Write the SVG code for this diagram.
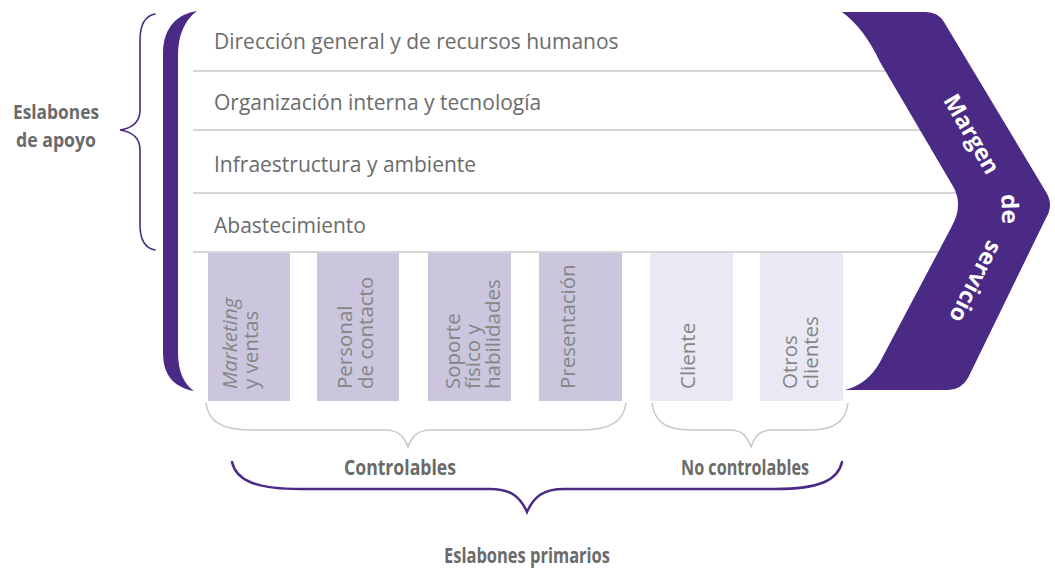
<svg xmlns="http://www.w3.org/2000/svg" width="1055" height="577" viewBox="0 0 1055 577">
  <style>
    .row { font-family: "Open Sans", "Noto Sans", sans-serif; font-size: 21px; fill: #6b6b6b; }
    .col { font-family: "Open Sans", "Noto Sans", sans-serif; font-size: 20.5px; fill: #858585; }
    .lbl { font-family: "Open Sans", "Noto Sans", sans-serif; font-weight: bold; fill: #6a6a6a; text-anchor: middle; }
    .chev { font-family: "Open Sans", "Noto Sans", sans-serif; font-weight: bold; font-size: 23px; fill: #ffffff; text-anchor: middle; }
    .sep { stroke: #d6d6d6; stroke-width: 2; fill: none; }
    .dark { fill: #cbc6de; }
    .light { fill: #eae8f2; }
    .purple { fill: #4b2a85; }
    .brace-light { stroke: #cacaca; stroke-width: 1.6; fill: none; }
    .brace-purple { stroke: #4b2a85; fill: none; stroke-linecap: round; }
  </style>

  <g id="connectors">
    <line class="sep" x1="193" y1="71" x2="900" y2="71"/>
    <line class="sep" x1="193" y1="130" x2="950" y2="130"/>
    <line class="sep" x1="193" y1="193" x2="990" y2="193"/>
    <line class="sep" x1="193" y1="252" x2="980" y2="252"/>
  </g>

  <g id="support-bar">
    <path class="purple" d="M197,11 C178,14 164,26 163,52 L163,352 C163,376 174,387 194,391 C184,384 178,372 178,352 L178,56 C178,34 185,20 197,11 Z"/>
  </g>

  <g id="row-direccion">
    <text class="row" x="214" y="49">Dirección general y de recursos humanos</text>
  </g>
  <g id="row-organizacion">
    <text class="row" x="214" y="110">Organización interna y tecnología</text>
  </g>
  <g id="row-infraestructura">
    <text class="row" x="214" y="172">Infraestructura y ambiente</text>
  </g>
  <g id="row-abastecimiento">
    <text class="row" x="214" y="233">Abastecimiento</text>
  </g>

  <g id="col-marketing">
    <rect class="dark" x="208" y="253" width="82" height="148"/>
    <text class="col" transform="translate(237,389) rotate(-90)" font-style="italic">Marketing</text>
    <text class="col" transform="translate(258,389) rotate(-90)">y ventas</text>
  </g>
  <g id="col-personal">
    <rect class="dark" x="317" y="253" width="82" height="148"/>
    <text class="col" transform="translate(352,389) rotate(-90)">Personal</text>
    <text class="col" transform="translate(373,389) rotate(-90)">de contacto</text>
  </g>
  <g id="col-soporte">
    <rect class="dark" x="428" y="253" width="83" height="148"/>
    <text class="col" transform="translate(460,389) rotate(-90)">Soporte</text>
    <text class="col" transform="translate(480,389) rotate(-90)">físico y</text>
    <text class="col" transform="translate(500,389) rotate(-90)">habilidades</text>
  </g>
  <g id="col-presentacion">
    <rect class="dark" x="539" y="253" width="83" height="148"/>
    <text class="col" transform="translate(575,389) rotate(-90)">Presentación</text>
  </g>
  <g id="col-cliente">
    <rect class="light" x="650" y="253" width="83" height="148"/>
    <text class="col" transform="translate(695,389) rotate(-90)">Cliente</text>
  </g>
  <g id="col-otros">
    <rect class="light" x="760" y="253" width="83" height="148"/>
    <text class="col" transform="translate(797,389) rotate(-90)">Otros</text>
    <text class="col" transform="translate(818,389) rotate(-90)">clientes</text>
  </g>

  <g id="margen-servicio">
    <path class="purple" d="M842,12 L926,12 Q938,12 944,22 L1046,192 Q1054,205 1046,218 L968,378 Q961,390 948,390 L845,390 Q868,384 880,362 L952,226 Q963,206 954,188 L880,62 Q864,28 842,12 Z"/>
    <text class="chev" transform="translate(972,134) rotate(60)" dy="0.36em" textLength="88" lengthAdjust="spacingAndGlyphs">Margen</text>
    <text class="chev" transform="translate(1010,209) rotate(88)" dy="0.36em" textLength="30" lengthAdjust="spacingAndGlyphs">de</text>
    <text class="chev" transform="translate(976,282) rotate(117)" dy="0.36em" textLength="88" lengthAdjust="spacingAndGlyphs">servicio</text>
  </g>

  <g id="eslabones-apoyo">
    <path class="brace-purple" stroke-width="1.6" d="M155,14 C145,16 140,24 140,40 L140,110 C140,122 133,128 120,130 C133,132 140,138 140,150 L140,225 C140,240 145,248 155,250"/>
    <text class="lbl" x="56" y="119" font-size="20" textLength="86" lengthAdjust="spacingAndGlyphs">Eslabones</text>
    <text class="lbl" x="56" y="147" font-size="20" textLength="80" lengthAdjust="spacingAndGlyphs">de apoyo</text>
  </g>

  <g id="controlables">
    <path class="brace-light" d="M206,403 C208,420 220,430 250,430 L385,430 C398,430 404,436 408,447 C412,436 418,430 431,430 L582,430 C612,430 624,420 626,403"/>
    <text class="lbl" x="400" y="475" font-size="22" textLength="112" lengthAdjust="spacingAndGlyphs">Controlables</text>
  </g>

  <g id="no-controlables">
    <path class="brace-light" d="M652,403 C654,420 664,430 690,430 L730,430 C742,430 747,436 751,447 C755,436 760,430 772,430 L810,430 C836,430 846,420 848,403"/>
    <text class="lbl" x="745" y="475" font-size="22" textLength="128" lengthAdjust="spacingAndGlyphs">No controlables</text>
  </g>

  <g id="eslabones-primarios">
    <path class="brace-purple" stroke-width="2.5" d="M232,462 C236,480 255,489 300,489 L490,489 C510,489 520,496 527,512 C534,496 544,489 564,489 L775,489 C820,489 838,480 842,462"/>
    <text class="lbl" x="527" y="563" font-size="22" textLength="166" lengthAdjust="spacingAndGlyphs">Eslabones primarios</text>
  </g>
</svg>
